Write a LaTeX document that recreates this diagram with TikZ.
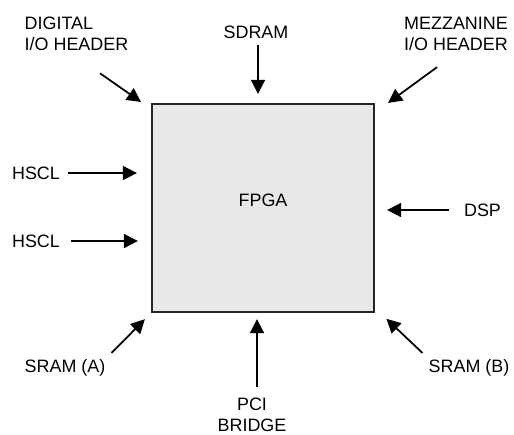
\documentclass[tikz,border=0pt]{standalone}
\usepackage{fontspec}
\setmainfont{Liberation Sans}
\usetikzlibrary{arrows.meta}

\begin{document}
\begin{tikzpicture}[every node/.style={font=\fontsize{10.2pt}{12.2pt}\selectfont},
		feed/.style={-{Triangle[length=0.28cm,width=0.28cm]}, line width=1pt},
		chip/.style={draw=black!85, line width=1.3pt, fill=black!9, minimum width=4.44cm, minimum height=4.16cm, inner sep=0pt}]
				\useasboundingbox (0,0) rectangle (10.28,-8.68);
				\node[chip, label={[yshift=0.16cm]center:FPGA}] (fpga) at (5.26, -4.16) {};

				\node[align=left] (dig) at (1.53, -0.68) {DIGITAL\\I/O HEADER};
				\node (sdram) at (5.12, -0.64) {SDRAM};
				\node[align=left] (mezz) at (9.12, -0.68) {MEZZANINE\\I/O HEADER};
				\node (hscla) at (0.72, -3.46) {HSCL};
				\node (hsclb) at (0.72, -4.82) {HSCL};
				\node (dsp) at (9.65, -4.2) {DSP};
				\node (srama) at (1.3, -7.35) {SRAM (A)};
				\node (sramb) at (9.38, -7.35) {SRAM (B)};
				\node[align=center] (pci) at (5.04, -8.3) {PCI\\BRIDGE};

				\draw[feed, shorten >=0.24cm] ([xshift=0.47cm,yshift=-0.32cm]dig.south) to ([yshift=-0.12cm]fpga.north west);
				\draw[feed, shorten >=0.18cm] ([xshift=0.04cm]sdram.south) to ([xshift=0.04cm]sdram.south |- fpga.north);
				\draw[feed, shorten >=0.32cm] ([xshift=-0.38cm,yshift=-0.2cm]mezz.south) to ([yshift=-0.19cm]fpga.north east);
				\draw[feed, shorten <=0.04cm, shorten >=0.28cm] (hscla) to (hscla -| fpga.west);
				\draw[feed, shorten <=0.1cm, shorten >=0.26cm] (hsclb) to (hsclb -| fpga.west);
				\draw[feed, shorten <=0.18cm, shorten >=0.24cm] (dsp) to (dsp -| fpga.east);
				\draw[feed, shorten >=0.17cm] (srama.north east) to (fpga.south west);
				\draw[feed, shorten >=0.31cm] (sramb.north west) to ([yshift=0.1cm]fpga.south east);
				\draw[feed, shorten <=0.1cm, shorten >=0.12cm] ([xshift=0.1cm]pci.north) to ([xshift=0.1cm]pci.north |- fpga.south);
			\end{tikzpicture}
\end{document}
